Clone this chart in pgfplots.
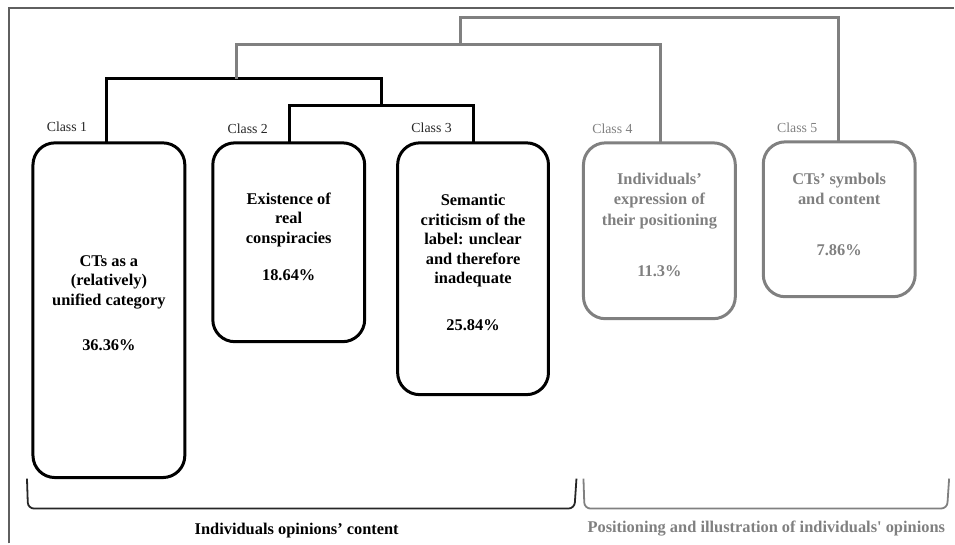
\documentclass[border=0pt]{standalone}
\usepackage{pgfplots}
\pgfplotsset{compat=1.18}
\usepackage{fontspec}
\setmainfont{Liberation Serif}
\newfontfamily\tf{Liberation Serif}
\definecolor{gr}{RGB}{128,128,128}
\definecolor{fr}{RGB}{95,95,95}
\tikzset{
  bt/.style={anchor=base, font=\tf\bfseries\fontsize{8.2}{10}\selectfont},
  gt/.style={bt, text=gr},
  ct/.style={anchor=base, font=\tf\fontsize{6.9}{8}\selectfont, text=black!85},
  cg/.style={ct, text=gr}}
\begin{document}
\begin{tikzpicture}
\begin{axis}[scale only axis, width=477.5pt, height=272pt,
  xmin=0, xmax=955, ymin=0, ymax=544, y dir=reverse, hide axis, clip=false]
\path (axis cs:0,0) rectangle (axis cs:955,544);
% frame
\addplot[fr, line width=0.9pt, line join=miter] coordinates {(9,544) (9,8) (955,8)};
% dendrogram (black)
\addplot[black, line width=1.5pt, line join=miter] coordinates {(107,143) (107,79) (382,79) (382,106)};
\addplot[black, line width=1.5pt, line join=miter] coordinates {(290,143) (290,106) (474,106) (474,143)};
% dendrogram (gray)
\addplot[gr, line width=1.5pt, line join=miter] coordinates {(237,79) (237,45) (661,45) (661,143)};
\addplot[gr, line width=1.5pt, line join=miter] coordinates {(461,45) (461,18) (839,18) (839,142)};
% boxes
\draw[black, line width=1.5pt, rounded corners=11pt] (axis cs:33,143) rectangle (axis cs:185,478);
\draw[black, line width=1.5pt, rounded corners=11pt] (axis cs:213,143) rectangle (axis cs:365,342);
\draw[black, line width=1.5pt, rounded corners=11pt] (axis cs:398,143) rectangle (axis cs:549,395);
\draw[gr, line width=1.5pt, rounded corners=11pt] (axis cs:584,143) rectangle (axis cs:736,319);
\draw[gr, line width=1.5pt, rounded corners=11pt] (axis cs:764,142) rectangle (axis cs:916,297);
% class labels
\node[ct] at (axis cs:67,132) {Class 1};
\node[ct] at (axis cs:248,134) {Class 2};
\node[ct] at (axis cs:432,133) {Class 3};
\node[cg] at (axis cs:613,134) {Class 4};
\node[cg] at (axis cs:798,133) {Class 5};
% box 1
\node[bt] at (axis cs:109,267) {CTs as a};
\node[bt] at (axis cs:109,286) {(relatively)};
\node[bt] at (axis cs:109,306) {unified category};
\node[bt] at (axis cs:109,351) {36.36\%};
% box 2
\node[bt] at (axis cs:289,205) {Existence of};
\node[bt] at (axis cs:289,224) {real};
\node[bt] at (axis cs:289,244) {conspiracies};
\node[bt] at (axis cs:289,281) {18.64\%};
% box 3
\node[bt] at (axis cs:473.5,206) {Semantic};
\node[bt] at (axis cs:473.5,226) {criticism of the};
\node[bt] at (axis cs:473.5,245) {label: unclear};
\node[bt] at (axis cs:473.5,265) {and therefore};
\node[bt] at (axis cs:473.5,284) {inadequate};
\node[bt] at (axis cs:473.5,331) {25.84\%};
% box 4
\node[gt] at (axis cs:660,185) {Individuals’};
\node[gt] at (axis cs:660,205) {expression of};
\node[gt] at (axis cs:660,226) {their positioning};
\node[gt] at (axis cs:660,277) {11.3\%};
% box 5
\node[gt] at (axis cs:840,185) {CTs’ symbols};
\node[gt] at (axis cs:840,205) {and content};
\node[gt] at (axis cs:840,256) {7.86\%};
% brackets
\draw[black!85, line width=0.9pt, rounded corners=3pt] (axis cs:27,479) -- (axis cs:28,509) -- (axis cs:575,509) -- (axis cs:577,479);
\draw[gr, line width=0.9pt, rounded corners=3pt] (axis cs:584,479) -- (axis cs:585,509) -- (axis cs:948,509) -- (axis cs:950,479);
% group labels
\node[bt] at (axis cs:297,535) {Individuals opinions’ content};
\node[gt] at (axis cs:767,533) {Positioning and illustration of individuals' opinions};
\end{axis}
\end{tikzpicture}
\end{document}
